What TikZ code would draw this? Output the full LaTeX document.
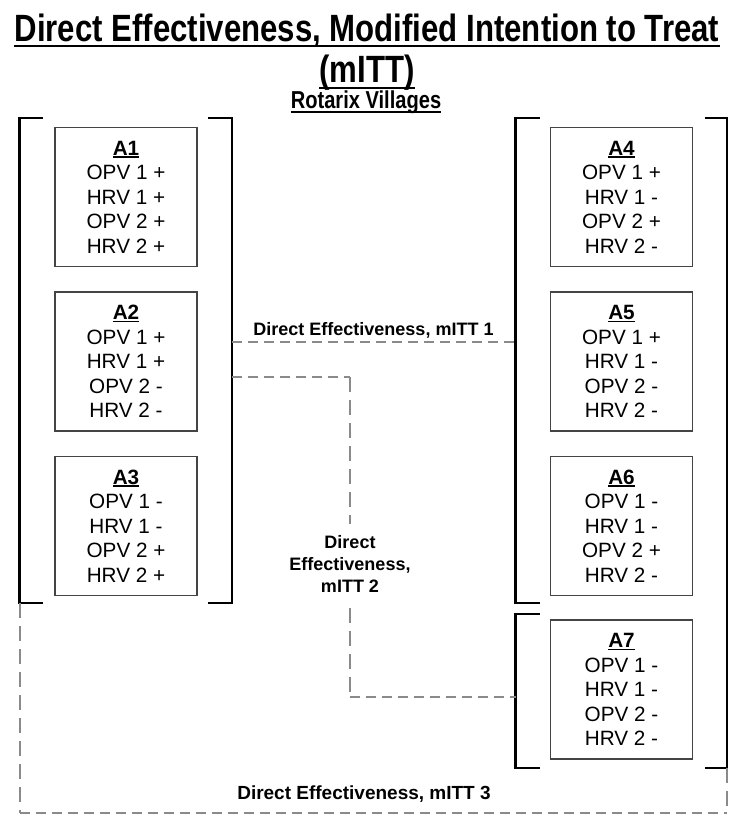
\documentclass[tikz,border=0pt]{standalone}
\usepackage{fontspec}
\setmainfont{Liberation Sans}
\newfontfamily\titlefont[FakeStretch=0.82]{Liberation Sans}
% bold label with a heavier underline than \underline gives
\newcommand{\boxlabel}[1]{\setbox0=\hbox{\bfseries #1}\rlap{\rule[-2.6pt]{\wd0}{1.6pt}}\box0}
\definecolor{boxgray}{HTML}{444444}
\definecolor{dashgray}{HTML}{8A8A8A}
\begin{document}
\begin{tikzpicture}[x=1pt,y=-1pt,
  cell/.style={draw=boxgray, line width=1.3pt, minimum width=142pt, minimum height=139pt,
    inner sep=0pt, align=center, font=\fontsize{20.7}{24.5}\selectfont},
  brk/.style={draw=black, line width=2.5pt, line join=miter},
  hconn/.style={draw=dashgray, line width=2pt, dash pattern=on 10pt off 6pt},
  vconn/.style={draw=dashgray, line width=2pt, dash pattern=on 15pt off 8pt},
  lab/.style={font=\bfseries\fontsize{18}{22}\selectfont, inner sep=0pt, align=center},
  ttl/.style={inner sep=0pt, anchor=base}
]
\useasboundingbox (0,0) rectangle (729,814);

% titles
\node[ttl, font=\titlefont\bfseries\fontsize{38}{42}\selectfont] (t1) at (367,41)
  {Direct Effectiveness, Modified Intention to Treat};
\node[ttl, font=\titlefont\bfseries\fontsize{38}{42}\selectfont] (t2) at (367,82) {(mITT)};
\node[ttl, font=\titlefont\bfseries\fontsize{24.5}{28}\selectfont] (t3) at (366,108) {Rotarix Villages};
\draw[line width=2.5pt] ([yshift=-5pt]t1.base west) -- ([yshift=-5pt]t1.base east);
\draw[line width=2.5pt] ([yshift=-6pt]t2.base west) -- ([yshift=-6pt]t2.base east);
\draw[line width=1.8pt] ([yshift=-4pt]t3.base west) -- ([yshift=-4pt]t3.base east);

% arm boxes
\node[cell] (a1) at (126,197)   {\boxlabel{A1}\\OPV 1 +\\HRV 1 +\\OPV 2 +\\HRV 2 +};
\node[cell] (a2) at (126,361.5) {\boxlabel{A2}\\OPV 1 +\\HRV 1 +\\OPV 2 -\\HRV 2 -};
\node[cell] (a3) at (126,526)   {\boxlabel{A3}\\OPV 1 -\\HRV 1 -\\OPV 2 +\\HRV 2 +};
\node[cell] (a4) at (621.5,197)   {\boxlabel{A4}\\OPV 1 +\\HRV 1 -\\OPV 2 +\\HRV 2 -};
\node[cell] (a5) at (621.5,361.5) {\boxlabel{A5}\\OPV 1 +\\HRV 1 -\\OPV 2 -\\HRV 2 -};
\node[cell] (a6) at (621.5,526)   {\boxlabel{A6}\\OPV 1 -\\HRV 1 -\\OPV 2 +\\HRV 2 -};
\node[cell] (a7) at (621.5,689.5) {\boxlabel{A7}\\OPV 1 -\\HRV 1 -\\OPV 2 -\\HRV 2 -};

% bracket corners
\coordinate (gLtl) at (19.5,118);  \coordinate (gLbl) at (19.5,603);
\coordinate (gLtr) at (232,118);   \coordinate (gLbr) at (232,603);
\coordinate (gRtl) at (515.5,118); \coordinate (gRbl) at (515.5,603);
\coordinate (g7tl) at (515.5,614); \coordinate (g7bl) at (515.5,768);
\coordinate (gBtr) at (727,118);   \coordinate (gBbr) at (727,768);

% brackets
\draw[brk] ([xshift=23.5pt]gLtl) -- (gLtl) -- (gLbl) -- ([xshift=23.5pt]gLbl);
\draw[brk] ([xshift=-24pt]gLtr) -- (gLtr) -- (gLbr) -- ([xshift=-24pt]gLbr);
\draw[brk] ([xshift=24.5pt]gRtl) -- (gRtl) -- (gRbl) -- ([xshift=24.5pt]gRbl);
\draw[brk] ([xshift=24.5pt]g7tl) -- (g7tl) -- (g7bl) -- ([xshift=24.5pt]g7bl);
\draw[brk] ([xshift=-22.5pt]gBtr) -- (gBtr) -- (gBbr) -- ([xshift=-22.5pt]gBbr);

% comparison 1
\coordinate (m1a) at (232,342);
\coordinate (m1b) at (515.5,342);
\draw[hconn] (m1a) -- (m1b);
\node[lab, anchor=base] (l1) at (373.5,335) {Direct Effectiveness, mITT 1};

% comparison 2
\coordinate (m2a) at (232,377);
\coordinate (m2b) at (515.5,697);
\node[lab, inner ysep=11pt, text depth=4pt] (l2) at (350,566) {Direct\\Effectiveness,\\mITT 2};
\coordinate (m2c) at (m2a -| l2.north);
\coordinate (m2d) at (m2b -| l2.south);
\draw[hconn] (m2a) -- (m2c);
\draw[vconn] (m2c) -- (l2.north);
\draw[vconn] (l2.south) -- (m2d);
\draw[hconn] (m2d) -- (m2b);

% comparison 3
\coordinate (m3a) at (gLbl);
\coordinate (m3b) at (gBbr);
\coordinate (m3c) at (19.5,812.5);
\coordinate (m3d) at (727,812.5);
\draw[vconn] (m3a) -- (m3c);
\draw[hconn] (m3c) -- (m3d);
\draw[vconn] (m3b) -- (m3d);
\node[lab, anchor=base, font=\bfseries\fontsize{19}{22}\selectfont] (l3) at (364,799) {Direct Effectiveness, mITT 3};
\end{tikzpicture}
\end{document}
